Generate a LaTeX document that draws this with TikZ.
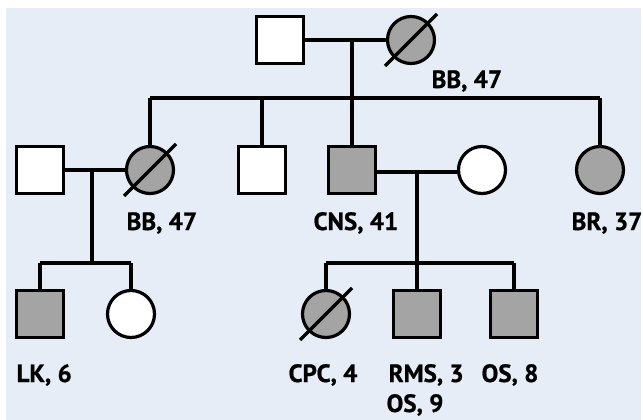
\documentclass[tikz,border=0pt]{standalone}
\usepackage{fontspec}
\setmainfont{PT Sans}[BoldFeatures={FakeBold=0.8}]
\definecolor{bg}{HTML}{E6EDF6}
\definecolor{aff}{HTML}{A4A4A4}
\begin{document}
\begin{tikzpicture}[x=1pt,y=-1pt,line width=3.2pt,
  male/.style={draw,rectangle,minimum size=47pt,inner sep=0pt,fill=white},
  female/.style={draw,circle,minimum size=47pt,inner sep=0pt,fill=white},
  affected/.style={fill=aff},
  lbl/.style={anchor=base west,inner sep=0pt,font=\fontsize{25}{28}\selectfont\bfseries},
  ]
\useasboundingbox (0,0) rectangle (643,420);
\fill[white] (0,0) rectangle (643,420);
\fill[bg] (6,8) rectangle (641,420);

% generation I
\node[male] (gf) at (280,40) {};
\node[female,affected] (gm) at (411,40) {};
% generation II
\node[male] (h1) at (40,170) {};
\node[female,affected] (bb) at (150,170) {};
\node[male] (s2) at (262,170) {};
\node[male,affected] (cns) at (352,170) {};
\node[female] (w) at (482,170) {};
\node[female,affected] (br) at (600,170) {};
% generation III
\node[male,affected] (lk) at (40,314) {};
\node[female] (d1) at (131,314) {};
\node[female,affected] (cpc) at (326,314) {};
\node[male,affected] (rms) at (417,314) {};
\node[male,affected] (os) at (514,314) {};

% junction points
\coordinate (m1) at (352,40);
\coordinate (sib1L) at (150,98);
\coordinate (sib1R) at (600,98);
\coordinate (m2) at (92,170);
\coordinate (sib2L) at (40,263);
\coordinate (sib2R) at (131,263);
\coordinate (m3) at (417,172);
\coordinate (sib3L) at (326,263);
\coordinate (sib3R) at (514,263);

% couple and descent lines
\draw (gf) -- (gm);
\draw (m1) -- (m1 |- sib1L);
\draw (sib1L) -- (sib1R);
\foreach \c in {bb,s2,cns,br} \draw (\c) -- (\c |- sib1L);

\draw (h1) -- (bb);
\draw (m2) -- (m2 |- sib2L);
\draw (sib2L) -- (sib2R);
\foreach \c in {lk,d1} \draw (\c) -- (\c |- sib2L);

\draw (cns.east |- m3) -- (w.west |- m3);
\draw (m3) -- (m3 |- sib3L);
\draw (sib3L) -- (sib3R);
\foreach \c in {cpc,rms,os} \draw (\c) -- (\c |- sib3L);

% deceased marks
\foreach \c in {gm,bb,cpc} \draw (\c.center) ++(-26,26) -- ++(52,-52);

% labels
\node[lbl] (t1) at (430,88) {BB, 47};
\node[lbl] (t2) at (125,230) {BB, 47};
\node[lbl] (t3) at (312,230) {CNS, 41};
\node[lbl] (t4) at (570,230) {BR, 37};
\node[lbl] (t5) at (15,382) {LK, 6};
\node[lbl] (t6) at (287,382) {CPC, 4};
\node[lbl] (t7) at (387,382) {RMS, 3};
\node[lbl] (t8) at (480,382) {OS, 8};
\node[lbl] (t9) at (385,412) {OS, 9};
\end{tikzpicture}
\end{document}
